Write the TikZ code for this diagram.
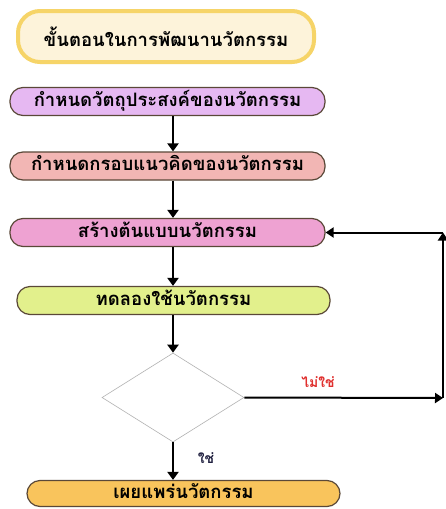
\documentclass[tikz,border=0pt]{standalone}
\usepackage{fontspec}
\newfontfamily\thaifont[Script=Thai]{Loma}
\usetikzlibrary{arrows.meta,shapes.geometric}
\definecolor{titlefill}{HTML}{FDF3DA}
\definecolor{titledraw}{HTML}{F6D468}
\definecolor{cpurple}{HTML}{E6B8F2}
\definecolor{csalmon}{HTML}{F2B6B4}
\definecolor{cpink}{HTML}{EEA2D2}
\definecolor{clime}{HTML}{E2F08C}
\definecolor{corange}{HTML}{F9C45C}
\definecolor{cedge}{HTML}{5A4838}
\definecolor{cred}{HTML}{E0302E}
\definecolor{cnavy}{HTML}{202040}
\tikzset{
  stepbox/.style={draw=cedge, line width=1.2pt, rounded corners=13pt, minimum width=315pt, minimum height=28pt, inner sep=0pt, text height=12pt, text depth=3pt, font=\thaifont\bfseries\fontsize{18.5}{20}\selectfont},
  arr/.style={line width=2.6pt, -{Triangle[width=11pt,length=8pt]}},
  arrthin/.style={line width=2pt, -{Triangle[width=10pt,length=8pt]}},
  lbl/.style={font=\thaifont\bfseries\fontsize{14}{16}\selectfont, inner sep=0pt}
}
\begin{document}
\begin{tikzpicture}[x=1pt,y=1pt]
\useasboundingbox[fill=white] (0,0) rectangle (446,-509);
\node[draw=titledraw, fill=titlefill, line width=4pt, rounded corners=22pt, minimum width=296pt, minimum height=51pt, inner sep=0pt, font=\thaifont\bfseries\fontsize{18.5}{20}\selectfont] (title) at (166,-36.5) {ขั้นตอนในการพัฒนานวัตกรรม};
\node[stepbox, fill=cpurple] (b1) at (167.5,-101.5) {กำหนดวัตถุประสงค์ของนวัตกรรม};
\node[stepbox, fill=csalmon] (b2) at (167.5,-166) {กำหนดกรอบแนวคิดของนวัตกรรม};
\node[stepbox, fill=cpink] (b3) at (167.5,-232.5) {สร้างต้นแบบนวัตกรรม};
\node[stepbox, fill=clime, minimum width=313pt] (b4) at (173.5,-300.5) {ทดลองใช้นวัตกรรม};
\node[diamond, draw=gray!60, line width=0.6pt, minimum width=142pt, minimum height=89pt, inner sep=0pt] (d) at (173,-397.5) {};
\node[stepbox, fill=corange, minimum width=313pt, minimum height=26pt] (b5) at (183.5,-493.5) {เผยแพร่นวัตกรรม};
\coordinate (c1) at (443,-398);
\coordinate (c2) at (443,-232.5);
\draw[arr] (b1.south -| d.north) -- (b2.north -| d.north);
\draw[arr] (b2.south -| d.north) -- (b3.north -| d.north);
\draw[arr] (b3.south -| d.north) -- (b4.north -| d.north);
\draw[arr] (b4.south -| d.north) -- (d.north);
\draw[arr] (d.south) -- (b5.north -| d.south);
\draw[arrthin] (d.east) -- (c1);
\draw[arrthin] (c1) -- (c2);
\draw[arrthin] (c2) -- (b3.east);
\node[lbl, text=cred] (no) at (318,-382) {ไม่ใช่};
\node[lbl, text=cnavy] (yes) at (206,-458) {ใช่};
\end{tikzpicture}
\end{document}
